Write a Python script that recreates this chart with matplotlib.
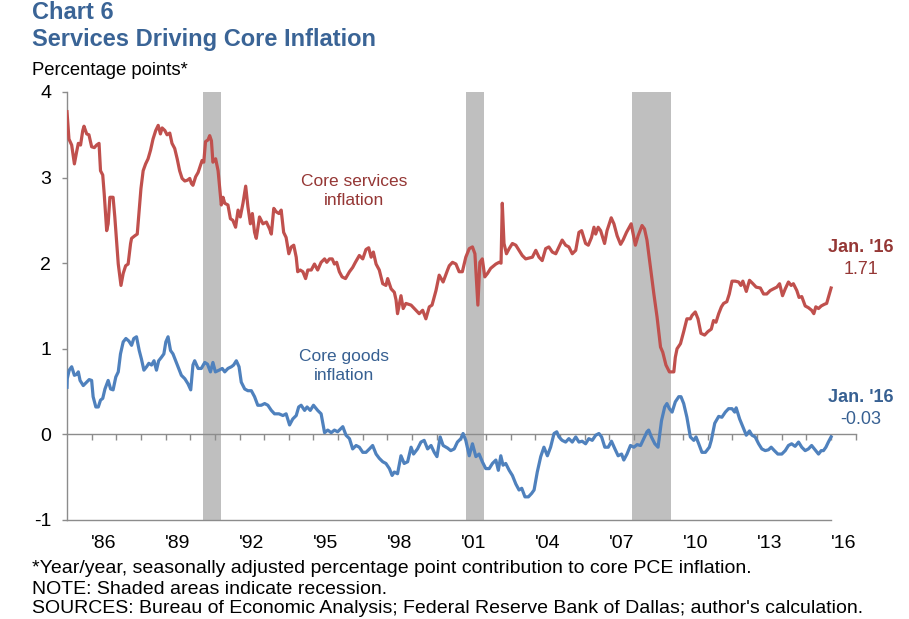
import matplotlib
matplotlib.use("Agg")
import matplotlib.pyplot as plt
import numpy as np

# ---------------- data (decimal years since 1985, values in percentage points) ----------------
services_t = [0.00, 0.08, 0.19, 0.30, 0.39, 0.46, 0.55, 0.64, 0.69, 0.80, 0.89, 1.00, 1.11, 1.20, 1.30,
              1.36, 1.45, 1.51, 1.61, 1.67, 1.74, 1.87, 1.94, 2.08, 2.19, 2.28, 2.38, 2.48, 2.58, 2.62,
              2.75, 2.85, 2.93, 3.00, 3.09, 3.19, 3.29, 3.39, 3.49, 3.60, 3.70, 3.79, 3.86, 3.97, 4.06,
              4.17, 4.26, 4.37, 4.47, 4.57, 4.67, 4.78, 4.89, 4.98, 5.05, 5.11, 5.22, 5.32, 5.41, 5.48,
              5.55, 5.62, 5.72, 5.79, 5.86, 5.92, 6.03, 6.13, 6.19, 6.26, 6.33, 6.40, 6.53, 6.63, 6.73,
              6.84, 6.94, 7.03, 7.14, 7.25, 7.34, 7.44, 7.52, 7.61, 7.68, 7.81, 7.95, 8.09, 8.22, 8.29,
              8.39, 8.49, 8.60, 8.69, 8.79, 8.89, 9.00, 9.10, 9.20, 9.30, 9.36, 9.46, 9.57, 9.68, 9.77,
              9.91, 10.04, 10.17, 10.31, 10.45, 10.54, 10.65, 10.76, 10.85, 10.94, 11.05, 11.16, 11.30,
              11.46, 11.59, 11.70, 11.86, 12.00, 12.13, 12.24, 12.34, 12.43, 12.54, 12.67, 12.81, 12.94,
              13.01, 13.15, 13.28, 13.35, 13.41, 13.55, 13.64, 13.75, 13.96, 14.09, 14.29, 14.43, 14.56,
              14.70, 14.81, 14.97, 15.10, 15.26, 15.44, 15.51, 15.64, 15.78, 15.91, 16.04, 16.18, 16.32,
              16.45, 16.55, 16.61, 16.67, 16.75, 16.85, 16.95, 17.06, 17.19, 17.40, 17.53, 17.61, 17.66,
              17.73, 17.83, 17.94, 18.07, 18.21, 18.34, 18.47, 18.61, 18.88, 19.02, 19.15, 19.28, 19.42,
              19.55, 19.69, 19.83, 19.96, 20.09, 20.23, 20.36, 20.50, 20.64, 20.77, 20.88, 21.04, 21.15,
              21.28, 21.38, 21.45, 21.55, 21.65, 21.81, 21.91, 22.08, 22.19, 22.32, 22.46, 22.56, 22.70,
              22.89, 22.97, 23.06, 23.17, 23.33, 23.43, 23.53, 23.67, 23.81, 23.94, 24.08, 24.17, 24.30,
              24.44, 24.62, 24.68, 24.75, 24.89, 25.02, 25.15, 25.29, 25.36, 25.49, 25.60, 25.72, 25.87,
              26.00, 26.14, 26.23, 26.33, 26.44, 26.55, 26.64, 26.77, 26.87, 26.98, 27.11, 27.25, 27.34,
              27.42, 27.56, 27.69, 27.83, 27.96, 28.13, 28.26, 28.39, 28.53, 28.66, 28.80, 28.91, 29.03,
              29.14, 29.27, 29.38, 29.47, 29.61, 29.70, 29.81, 29.95, 30.08, 30.21, 30.30, 30.38, 30.49,
              30.60, 30.73, 30.82, 30.89, 31.00]
services_v = [3.77, 3.45, 3.38, 3.16, 3.30, 3.40, 3.38, 3.55, 3.60, 3.51, 3.50, 3.36, 3.35, 3.38, 3.40,
              3.08, 3.03, 2.81, 2.38, 2.46, 2.77, 2.77, 2.54, 1.99, 1.74, 1.88, 1.97, 1.99, 2.23, 2.29,
              2.32, 2.34, 2.62, 2.87, 3.08, 3.16, 3.22, 3.32, 3.45, 3.55, 3.61, 3.51, 3.58, 3.55, 3.50,
              3.52, 3.40, 3.34, 3.22, 3.08, 2.99, 2.96, 2.97, 2.99, 2.93, 2.91, 3.01, 3.06, 3.14, 3.20,
              3.18, 3.42, 3.44, 3.49, 3.43, 3.18, 3.22, 3.08, 2.89, 2.68, 2.77, 2.70, 2.68, 2.52, 2.50,
              2.42, 2.62, 2.54, 2.70, 2.90, 2.66, 2.46, 2.58, 2.36, 2.29, 2.54, 2.46, 2.48, 2.40, 2.34,
              2.64, 2.60, 2.58, 2.62, 2.36, 2.30, 2.11, 2.19, 2.21, 2.07, 1.90, 1.92, 1.90, 1.82, 1.92,
              1.92, 1.99, 1.92, 2.01, 2.05, 2.01, 2.05, 2.05, 1.99, 2.01, 1.90, 1.84, 1.82,
              1.90, 1.95, 2.01, 2.09, 2.05, 2.16, 2.18, 2.07, 2.13, 1.99, 1.92, 1.76, 1.74,
              1.82, 1.70, 1.66, 1.57, 1.41, 1.62, 1.47, 1.53, 1.51, 1.47, 1.41, 1.45, 1.35,
              1.49, 1.51, 1.68, 1.86, 1.78, 1.92, 1.97, 2.01, 1.99, 1.90, 1.90, 2.07, 2.17,
              2.19, 2.11, 1.80, 1.51, 2.01, 2.05, 1.84, 1.88, 1.94, 1.99, 2.01, 2.00, 2.70,
              2.23, 2.11, 2.17, 2.23, 2.21, 2.15, 2.09, 2.05, 2.07, 2.15, 2.07, 2.03, 2.17,
              2.19, 2.13, 2.11, 2.19, 2.27, 2.21, 2.19, 2.11, 2.15, 2.36, 2.38, 2.23, 2.21,
              2.30, 2.42, 2.34, 2.42, 2.38, 2.23, 2.38, 2.53, 2.46, 2.32, 2.22, 2.27, 2.36,
              2.46, 2.34, 2.21, 2.32, 2.44, 2.40, 2.27, 1.95, 1.64, 1.37, 1.02, 0.96, 0.81,
              0.73, 0.73, 0.90, 1.00, 1.06, 1.20, 1.35, 1.35, 1.39, 1.43, 1.35, 1.18, 1.16,
              1.20, 1.23, 1.33, 1.31, 1.41, 1.49, 1.53, 1.55, 1.64, 1.79, 1.79, 1.78, 1.74,
              1.79, 1.67, 1.80, 1.76, 1.72, 1.71, 1.64, 1.64, 1.68, 1.70, 1.72, 1.76, 1.62,
              1.70, 1.78, 1.74, 1.76, 1.68, 1.60, 1.61, 1.50, 1.48, 1.45, 1.41, 1.49, 1.47,
              1.50, 1.52, 1.53, 1.60, 1.71]

goods_t = [0.00, 0.01, 0.09, 0.19, 0.30, 0.39, 0.46, 0.53, 0.66, 0.80, 0.90, 1.00, 1.06, 1.17, 1.27,
           1.36, 1.45, 1.54, 1.67, 1.77, 1.87, 1.98, 2.08, 2.17, 2.28, 2.39, 2.51, 2.62, 2.71, 2.82,
           2.93, 3.02, 3.12, 3.23, 3.32, 3.43, 3.53, 3.63, 3.72, 3.83, 3.93, 4.01, 4.10, 4.20, 4.30,
           4.41, 4.51, 4.64, 4.78, 4.91, 5.02, 5.11, 5.18, 5.32, 5.45, 5.59, 5.70, 5.82, 5.92, 6.02,
           6.17, 6.30, 6.40, 6.53, 6.67, 6.76, 6.87, 6.98, 7.07, 7.21, 7.34, 7.48, 7.61, 7.74, 7.88,
           8.02, 8.15, 8.29, 8.42, 8.60, 8.76, 8.89, 9.03, 9.16, 9.30, 9.40, 9.50, 9.64, 9.74, 9.87,
           10.00, 10.17, 10.31, 10.45, 10.58, 10.72, 10.85, 10.98, 11.19, 11.32, 11.46, 11.59, 11.73,
           11.86, 12.00, 12.13, 12.27, 12.40, 12.54, 12.67, 12.81, 12.94, 13.08, 13.19, 13.28, 13.41,
           13.55, 13.68, 13.82, 13.96, 14.06, 14.22, 14.36, 14.49, 14.63, 14.77, 14.90, 15.01, 15.14,
           15.26, 15.44, 15.57, 15.71, 15.84, 15.98, 16.07, 16.18, 16.32, 16.45, 16.59, 16.72, 16.85,
           16.99, 17.13, 17.26, 17.40, 17.50, 17.60, 17.69, 17.80, 17.94, 18.07, 18.21, 18.34, 18.45,
           18.58, 18.72, 18.85, 18.95, 19.08, 19.22, 19.35, 19.49, 19.62, 19.76, 19.87, 19.96, 20.09,
           20.23, 20.36, 20.50, 20.64, 20.77, 20.90, 21.04, 21.17, 21.31, 21.45, 21.58, 21.69, 21.82,
           21.96, 22.09, 22.23, 22.36, 22.50, 22.59, 22.72, 22.86, 23.00, 23.13, 23.27, 23.40, 23.53,
           23.60, 23.71, 23.85, 23.98, 24.12, 24.25, 24.34, 24.44, 24.55, 24.68, 24.82, 24.91, 25.02,
           25.15, 25.29, 25.43, 25.52, 25.63, 25.76, 25.90, 26.06, 26.14, 26.28, 26.44, 26.57, 26.71,
           26.84, 26.98, 27.09, 27.15, 27.29, 27.42, 27.56, 27.69, 27.79, 27.92, 28.06, 28.19, 28.33,
           28.46, 28.57, 28.70, 28.84, 29.00, 29.14, 29.27, 29.40, 29.54, 29.68, 29.81, 29.95, 30.08,
           30.21, 30.38, 30.49, 30.60, 30.69, 30.79, 30.89, 31.00]
goods_v = [0.55, 0.65, 0.75, 0.79, 0.69, 0.70, 0.73, 0.63, 0.57, 0.61, 0.64, 0.63, 0.44, 0.32, 0.32,
           0.40, 0.42, 0.53, 0.63, 0.53, 0.52, 0.67, 0.73, 0.94, 1.08, 1.12, 1.09, 1.04, 1.12, 1.14,
           0.98, 0.88, 0.75, 0.79, 0.83, 0.81, 0.86, 0.75, 0.86, 0.90, 0.94, 1.08, 1.14, 0.98, 0.94,
           0.86, 0.79, 0.69, 0.65, 0.59, 0.52, 0.81, 0.86, 0.77, 0.77, 0.84, 0.82, 0.73, 0.84, 0.73,
           0.75, 0.77, 0.73, 0.77, 0.79, 0.81, 0.86, 0.79, 0.61, 0.53, 0.51, 0.51, 0.44, 0.34, 0.34,
           0.36, 0.34, 0.28, 0.24, 0.24, 0.22, 0.24, 0.11, 0.18, 0.22, 0.32, 0.34, 0.28, 0.32, 0.28,
           0.34, 0.28, 0.24, 0.02, 0.05, 0.02, 0.05, 0.03, 0.09, -0.01, -0.05, -0.17, -0.13,
           -0.15, -0.21, -0.21, -0.17, -0.13, -0.23, -0.28, -0.32, -0.34, -0.40, -0.48, -0.44, -0.46,
           -0.25, -0.34, -0.32, -0.15, -0.23, -0.17, -0.09, -0.07, -0.17, -0.13, -0.21, -0.26, -0.03,
           -0.13, -0.16, -0.19, -0.17, -0.09, -0.05, 0.01, -0.07, -0.25, -0.11, -0.26, -0.23, -0.32,
           -0.40, -0.40, -0.34, -0.30, -0.42, -0.25, -0.36, -0.34, -0.42, -0.48, -0.58, -0.65, -0.63,
           -0.73, -0.73, -0.69, -0.65, -0.44, -0.26, -0.15, -0.25, -0.15, 0.01, 0.03, -0.03, -0.07,
           -0.09, -0.05, -0.09, -0.03, -0.09, -0.08, -0.11, -0.05, -0.07, -0.01, 0.01, -0.03, -0.15,
           -0.15, -0.08, -0.17, -0.25, -0.23, -0.30, -0.23, -0.13, -0.15, -0.12, -0.13, -0.05, 0.03,
           0.05, -0.03, -0.11, -0.15, 0.16, 0.32, 0.36, 0.30, 0.26, 0.38, 0.44, 0.44, 0.36,
           0.20, -0.03, -0.07, -0.03, -0.11, -0.21, -0.21, -0.15, -0.07, 0.13, 0.21, 0.20, 0.26,
           0.30, 0.30, 0.26, 0.31, 0.18, 0.09, -0.01, 0.04, -0.01, -0.03, -0.11, -0.17, -0.19,
           -0.18, -0.15, -0.19, -0.23, -0.23, -0.19, -0.13, -0.11, -0.14, -0.09, -0.15, -0.19, -0.17,
           -0.13, -0.19, -0.23, -0.19, -0.19, -0.15, -0.09, -0.03]

recessions = [(1990.50, 1991.25), (2001.17, 2001.92), (2007.92, 2009.50)]
tick_years = list(range(1986, 2018))
label_years = [1986, 1989, 1992, 1995, 1998, 2001, 2004, 2007, 2010, 2013, 2016]
yticks = [-1, 0, 1, 2, 3, 4]

# ---------------- styling ----------------
RED = "#C0504D"
BLUE = "#4F81BD"
RED_TXT = "#953735"
BLUE_TXT = "#376092"
TITLE = "#3A6496"
GRAY = "#8C8C8C"
SHADE = "#BFBFBF"

plt.rcParams['font.family'] = ['Liberation Sans', 'DejaVu Sans']

fig = plt.figure(figsize=(9.09, 6.19), dpi=100)
ax = fig.add_axes([0.0737, 0.16, 0.8677, 0.6914])

st = 1985 + np.array(services_t)
gt = 1985 + np.array(goods_t)

for a, b in recessions:
    ax.axvspan(a, b, color=SHADE, lw=0, zorder=1)

ax.plot(st, services_v, color=RED, lw=2.3, zorder=3, solid_joinstyle='round')
ax.plot(gt, goods_v, color=BLUE, lw=2.3, zorder=3, solid_joinstyle='round')

ax.set_xlim(1985, 2017)
ax.set_ylim(-1, 4)

# spines
for s in ['top', 'right']:
    ax.spines[s].set_visible(False)
ax.spines['left'].set_color(GRAY)
ax.spines['left'].set_linewidth(1.0)
ax.spines['bottom'].set_position(('data', 0))
ax.spines['bottom'].set_color(GRAY)
ax.spines['bottom'].set_linewidth(1.0)
ax.spines['bottom'].set_bounds(1985, 2017)
ax.spines['bottom'].set_zorder(2)

ax.set_xticks(tick_years)
ax.set_xticklabels([])
ax.tick_params(axis='x', direction='out', length=4.5, width=1.0, color=GRAY)

ax.set_yticks(yticks)
ax.set_yticklabels([str(v) for v in yticks])
ax.tick_params(axis='y', direction='out', length=3.5, width=1.0, color=GRAY,
               labelsize=14, pad=8)

# bottom frame line at -1
ax.plot([1985, 2016], [-1, -1], color=GRAY, lw=1.0, clip_on=False, zorder=2)

# year labels at mid-year
sec = ax.secondary_xaxis('bottom')
sec.set_xticks([y + 0.5 for y in label_years])
sec.set_xticklabels(["'" + str(y)[2:] for y in label_years])
sec.tick_params(length=0, labelsize=14, pad=11)
sec.spines['bottom'].set_visible(False)

# annotations
ax.text(1996.66, 2.84, "Core services\ninflation", color=RED_TXT, fontsize=12.5,
        ha='center', va='center', linespacing=1.35)
ax.text(1996.25, 0.80, "Core goods\ninflation", color=BLUE_TXT, fontsize=12.5,
        ha='center', va='center', linespacing=1.35)

ax.text(2017.2, 2.18, "Jan. '16", color=RED_TXT, fontsize=13, weight='bold',
        ha='center', va='center', clip_on=False)
ax.text(2017.2, 1.93, f"{services_v[-1]:.2f}", color=RED_TXT, fontsize=13,
        ha='center', va='center', clip_on=False)
ax.text(2017.2, 0.43, "Jan. '16", color=BLUE_TXT, fontsize=13, weight='bold',
        ha='center', va='center', clip_on=False)
ax.text(2017.2, 0.175, f"{goods_v[-1]:.2f}", color=BLUE_TXT, fontsize=13,
        ha='center', va='center', clip_on=False)

# titles
fig.text(0.0352, 1 - 19 / 619, "Chart 6", color=TITLE, fontsize=17, weight='bold', va='baseline')
fig.text(0.0352, 1 - 46 / 619, "Services Driving Core Inflation", color=TITLE, fontsize=17,
         weight='bold', va='baseline')
fig.text(0.0352, 1 - 75 / 619, "Percentage points*", color='black', fontsize=13.3, va='baseline')

# footnotes
foot_family = ['Liberation Sans Narrow', 'Liberation Sans', 'DejaVu Sans']
fig.text(0.0352, 1 - 573 / 619,
         "*Year/year, seasonally adjusted percentage point contribution to core PCE inflation.",
         fontsize=14, va='baseline', family=foot_family)
fig.text(0.0352, 1 - 594 / 619, "NOTE: Shaded areas indicate recession.",
         fontsize=14, va='baseline', family=foot_family)
fig.text(0.0352, 1 - 613 / 619,
         "SOURCES: Bureau of Economic Analysis; Federal Reserve Bank of Dallas; author's calculation.",
         fontsize=14, va='baseline', family=foot_family)

fig.savefig("out.png", dpi=100)
